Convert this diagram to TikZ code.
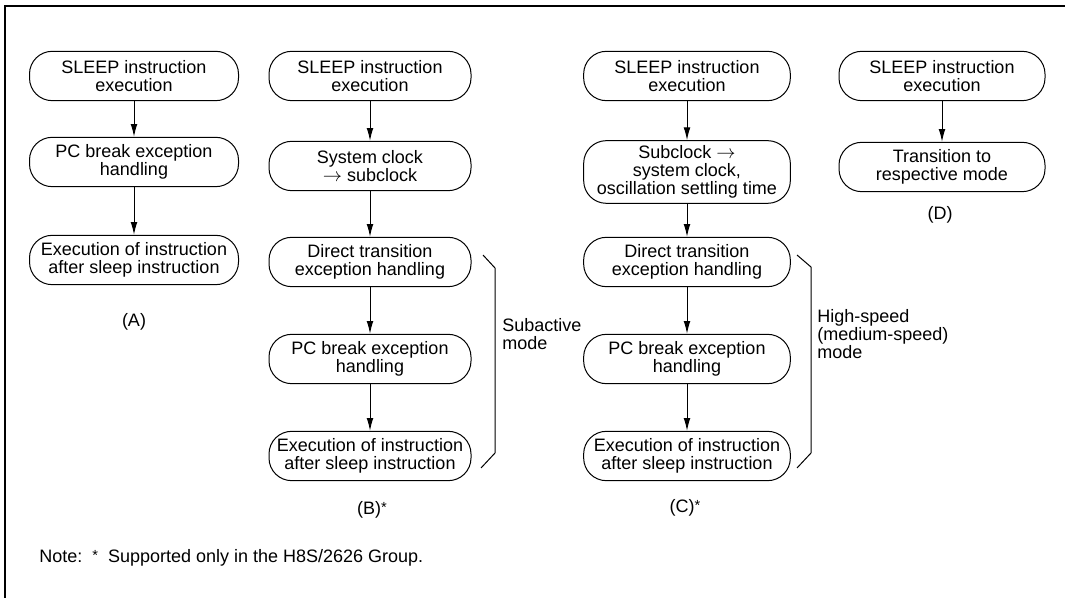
\documentclass[tikz,border=0pt]{standalone}
\usepackage{fontspec}
\setmainfont{Liberation Sans}
\usetikzlibrary{arrows.meta}
\newcommand{\myast}{{\fontsize{11}{11}\selectfont\raisebox{1.5pt}{*}}}
\newcommand{\rarr}{\raisebox{0pt}[0.6ex][0pt]{$\rightarrow$}}
\begin{document}
\begin{tikzpicture}[x=0.75pt,y=-0.75pt,
  txt/.style={font=\fontsize{13.5}{13.6}\selectfont, inner sep=0pt},
  flow/.style={txt, draw, line width=0.75pt, rounded corners=17pt, align=center,
    minimum height=37pt},
  wa/.style={flow, minimum width=156.75pt},
  wb/.style={flow, minimum width=151.5pt},
  wc/.style={flow, minimum width=155pt},
  wd/.style={flow, minimum width=154.5pt},
  conn/.style={line width=0.75pt, -{Latex[length=9.5pt,width=5pt]}},
  brk/.style={line width=0.75pt},
  lbl/.style={txt, align=left, anchor=west}]
\useasboundingbox (0,0) rectangle (1065,598);
\draw[line width=1.5pt] (5,598) -- (5,6) -- (1065,6);

% Column A
\node[wa] (a1) at (134,76) {SLEEP instruction\\execution};
\node[wa] (a2) at (134,162) {PC break exception\\handling};
\node[wa] (a3) at (134,260) {Execution of instruction\\after sleep instruction};
\node[txt] (la) at (134,322) {(A)};
\draw[conn] (a1) -- (a2);
\draw[conn] (a2) -- (a3);

% Column B
\node[wb] (b1) at (370,76) {SLEEP instruction\\execution};
\node[wb] (b2) at (370,166) {System clock\\\rarr{} subclock};
\node[wb] (b3) at (370,262) {Direct transition\\exception handling};
\node[wb] (b4) at (370,359) {PC break exception\\handling};
\node[wb] (b5) at (370,456) {Execution of instruction\\after sleep instruction};
\node[txt] (lb) at (372,510) {(B)\myast};
\draw[conn] (b1) -- (b2);
\draw[conn] (b2) -- (b3);
\draw[conn] (b3) -- (b4);
\draw[conn] (b4) -- (b5);
\coordinate (bk1) at (483,255);
\coordinate (bk2) at (495,268);
\coordinate (bk3) at (495,453);
\coordinate (bk4) at (481,468);
\draw[brk] (bk1) -- (bk2) -- (bk3) -- (bk4);
\node[lbl] (mb) at (502,334) {Subactive\\mode};

% Column C
\node[wc] (c1) at (687,76) {SLEEP instruction\\execution};
\node[wc, minimum height=47pt] (c2) at (687,172) {Subclock \rarr\\system clock,\\oscillation settling time};
\node[wc] (c3) at (687,262) {Direct transition\\exception handling};
\node[wc] (c4) at (687,359) {PC break exception\\handling};
\node[wc] (c5) at (687,456) {Execution of instruction\\after sleep instruction};
\node[txt] (lc) at (685,508) {(C)\myast};
\draw[conn] (c1) -- (c2);
\draw[conn] (c2) -- (c3);
\draw[conn] (c3) -- (c4);
\draw[conn] (c4) -- (c5);
\coordinate (ck1) at (797,255);
\coordinate (ck2) at (811,267);
\coordinate (ck3) at (811,453);
\coordinate (ck4) at (797,468);
\draw[brk] (ck1) -- (ck2) -- (ck3) -- (ck4);
\node[lbl] (mc) at (817,334) {High-speed\\(medium-speed)\\mode};

% Column D
\node[wd] (d1) at (942,76) {SLEEP instruction\\execution};
\node[wd] (d2) at (942,167) {Transition to\\respective mode};
\node[txt] (ld) at (940,215) {(D)};
\draw[conn] (d1) -- (d2);

% Note
\node[txt, anchor=west] (note) at (39,558) {Note:\ \ \myast\ \ Supported only in the H8S/2626 Group.};
\end{tikzpicture}
\end{document}
